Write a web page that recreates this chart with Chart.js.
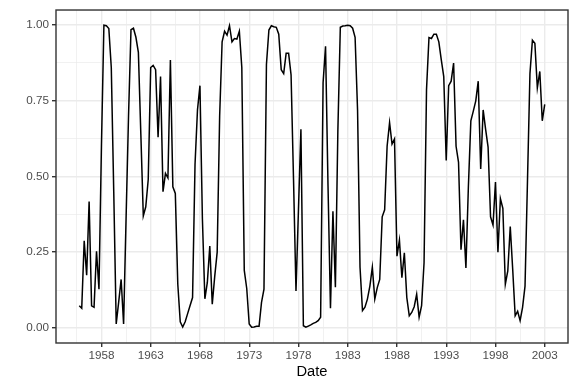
<!DOCTYPE html>
<html>
<head>
<meta charset="utf-8">
<script src="https://cdn.jsdelivr.net/npm/chart.js@4.4.0/dist/chart.umd.min.js"></script>
<style>
  html, body { margin: 0; padding: 0; background: #fff; }
</style>
</head>
<body>
<canvas id="line-chart" width="576" height="384"></canvas>
<script>
// quarterly series, first quarter = Q4 1955
const firstQuarter = 1955.75;
const probs = [
  0.073, 0.065, 0.288, 0.174, 0.417, 0.073, 0.068, 0.253, 0.128, 0.60,
  1.0, 0.998, 0.989, 0.86, 0.45, 0.013, 0.085, 0.16, 0.013, 0.36,
  0.70, 0.985, 0.99, 0.96, 0.91, 0.64, 0.37, 0.40, 0.49, 0.86,
  0.867, 0.853, 0.63, 0.83, 0.45, 0.51, 0.495, 0.885, 0.466, 0.444,
  0.145, 0.02, 0.003, 0.02, 0.047, 0.074, 0.10, 0.54, 0.72, 0.80,
  0.36, 0.096, 0.15, 0.27, 0.078, 0.17, 0.25, 0.70, 0.945, 0.98,
  0.967, 0.998, 0.945, 0.956, 0.954, 0.98, 0.86, 0.19, 0.13, 0.013,
  0.002, 0.003, 0.005, 0.005, 0.084, 0.128, 0.87, 0.984, 0.998, 0.995,
  0.993, 0.97, 0.853, 0.84, 0.907, 0.907, 0.836, 0.49, 0.122, 0.39,
  0.656, 0.007, 0.002, 0.006, 0.01, 0.015, 0.018, 0.024, 0.035, 0.81,
  0.93, 0.47, 0.065, 0.385, 0.134, 0.65, 0.993, 0.997, 0.998, 1.0,
  0.998, 0.99, 0.96, 0.72, 0.2, 0.057, 0.068, 0.095, 0.138, 0.2,
  0.095, 0.133, 0.16, 0.367, 0.39, 0.6, 0.678, 0.607, 0.624, 0.237,
  0.29, 0.166, 0.248, 0.1, 0.04, 0.051, 0.07, 0.111, 0.035, 0.073,
  0.215, 0.787, 0.959, 0.956, 0.97, 0.97, 0.945, 0.885, 0.83, 0.553,
  0.80, 0.815, 0.875, 0.6, 0.547, 0.258, 0.357, 0.198, 0.466, 0.684,
  0.716, 0.75, 0.815, 0.525, 0.72, 0.656, 0.597, 0.367, 0.34, 0.482,
  0.25, 0.427, 0.395, 0.144, 0.188, 0.335, 0.193, 0.04, 0.055, 0.024,
  0.068, 0.138, 0.487, 0.84, 0.95, 0.94, 0.793, 0.847, 0.684, 0.738
];
const xMajor = [1958, 1963, 1968, 1973, 1978, 1983, 1988, 1993, 1998, 2003];
const xMinor = [1955.5, 1960.5, 1965.5, 1970.5, 1975.5, 1980.5, 1985.5, 1990.5, 1995.5, 2000.5];
const yMajor = [0, 0.25, 0.5, 0.75, 1];
const yMinor = [0.125, 0.375, 0.625, 0.875];

const dates = probs.map((_, i) => firstQuarter + i / 4);
const points = probs.map((p, i) => ({ x: dates[i], y: p }));

// ggplot style 5% expansion
const xSpan = dates[dates.length - 1] - dates[0];
const xMin = dates[0] - 0.05 * xSpan;
const xMax = dates[dates.length - 1] + 0.05 * xSpan;

const font = "'Liberation Sans', Arial, Helvetica, sans-serif";
const gridCol = '#EBEBEB';
const darkCol = '#333333';

const panelBorder = {
  id: 'panelBorder',
  afterDatasetsDraw(chart) {
    const a = chart.chartArea, c = chart.ctx;
    c.save();
    c.strokeStyle = darkCol;
    c.lineWidth = 1.4;
    c.strokeRect(a.left, a.top, a.right - a.left, a.bottom - a.top);
    c.restore();
  }
};

new Chart(document.getElementById('line-chart').getContext('2d'), {
  type: 'line',
  data: {
    datasets: [{
      data: points,
      borderColor: '#000000',
      borderWidth: 1.5,
      pointRadius: 0,
      tension: 0,
      fill: false
    }]
  },
  options: {
    responsive: false,
    animation: false,
    devicePixelRatio: 1,
    layout: { padding: { top: 7, right: 8, bottom: 0, left: 0 } },
    plugins: { legend: { display: false }, tooltip: { enabled: false } },
    scales: {
      x: {
        type: 'linear',
        min: xMin,
        max: xMax,
        afterBuildTicks: s => { s.ticks = xMinor.concat(xMajor).sort((a, b) => a - b).map(v => ({ value: v })); },
        afterFit: s => { s.height = 41; },
        border: { display: false },
        grid: {
          color: gridCol,
          lineWidth: ctx => xMajor.includes(ctx.tick.value) ? 1.4 : 0.7,
          tickLength: 4,
          tickWidth: 1.4,
          tickColor: ctx => xMajor.includes(ctx.tick.value) ? darkCol : 'rgba(0,0,0,0)'
        },
        ticks: {
          autoSkip: false,
          maxRotation: 0,
          padding: 2,
          color: '#4D4D4D',
          font: { family: font, size: 11.7 },
          callback: v => xMajor.includes(v) ? String(v) : ''
        },
        title: {
          display: true,
          text: 'Date',
          color: '#000000',
          font: { family: font, size: 14.7 },
          padding: { top: 0, bottom: 3 }
        }
      },
      y: {
        type: 'linear',
        min: -0.05,
        max: 1.05,
        afterBuildTicks: s => { s.ticks = yMinor.concat(yMajor).sort((a, b) => a - b).map(v => ({ value: v })); },
        afterFit: s => { s.width = 56; },
        border: { display: false },
        grid: {
          color: gridCol,
          lineWidth: ctx => yMajor.includes(ctx.tick.value) ? 1.4 : 0.7,
          tickLength: 4,
          tickWidth: 1.4,
          tickColor: ctx => yMajor.includes(ctx.tick.value) ? darkCol : 'rgba(0,0,0,0)'
        },
        ticks: {
          autoSkip: false,
          padding: 3,
          color: '#4D4D4D',
          font: { family: font, size: 11.7 },
          callback: v => yMajor.includes(v) ? v.toFixed(2) : ''
        }
      }
    }
  },
  plugins: [panelBorder]
});
</script>
</body>
</html>
